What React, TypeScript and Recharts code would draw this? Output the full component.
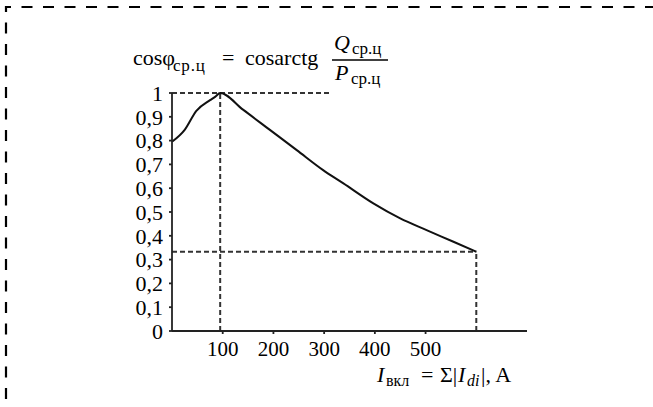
import React from 'react';
import { LineChart, Line, XAxis, YAxis, ReferenceLine } from 'recharts';

// current, A
const currents = [0, 25, 48, 75, 85, 95, 140, 193, 246, 298, 338, 397, 450, 502, 555, 600];
// cos phi
const cosPhi = [0.795, 0.845, 0.925, 0.97, 0.984, 1.0, 0.93, 0.845, 0.76, 0.676, 0.62, 0.536, 0.473, 0.424, 0.375, 0.333];

const xTicks = [100, 200, 300, 400, 500];
const yTicks = [0, 0.1, 0.2, 0.3, 0.4, 0.5, 0.6, 0.7, 0.8, 0.9, 1];

// guide lines: peak and end of the curve
const peakX = 95;
const endX = 600;
const endY = 0.333;
const topGuideEndX = 315;

const data = currents.map((x, i) => ({ x, y: cosPhi[i] }));

const FONT = '"Liberation Serif", "Times New Roman", serif';
const AXIS = '#222';
const GUIDE = { stroke: '#333', strokeWidth: 2, strokeDasharray: '5 3' };

export default function App() {
  return (
    <div style={{ position: 'absolute', left: 0, top: 0, width: 653, height: 407, background: '#fff' }}>
      <LineChart
        width={653}
        height={407}
        data={data}
        margin={{ top: 93, right: 126, left: 112, bottom: 46 }}
      >
        <XAxis
          dataKey="x"
          type="number"
          domain={[0, 700]}
          ticks={xTicks}
          allowDataOverflow
          tickSize={3}
          tickMargin={7}
          stroke={AXIS}
          strokeWidth={1.8}
          tick={{ fill: '#000', fontSize: 21, fontFamily: FONT }}
        />
        <YAxis
          type="number"
          domain={[0, 1]}
          ticks={yTicks}
          interval={0}
          width={60}
          tickSize={3}
          tickMargin={6}
          stroke={AXIS}
          strokeWidth={1.8}
          tickFormatter={(v: number) => String(v).replace('.', ',')}
          tick={{ fill: '#000', fontSize: 22, fontFamily: FONT }}
        />
        <ReferenceLine segment={[{ x: 0, y: 1 }, { x: topGuideEndX, y: 1 }]} {...GUIDE} />
        <ReferenceLine segment={[{ x: peakX, y: 0 }, { x: peakX, y: 1 }]} {...GUIDE} />
        <ReferenceLine segment={[{ x: 0, y: endY }, { x: endX, y: endY }]} {...GUIDE} />
        <ReferenceLine segment={[{ x: endX, y: 0 }, { x: endX, y: endY }]} {...GUIDE} />
        <Line
          type="monotone"
          dataKey="y"
          stroke="#111"
          strokeWidth={2}
          dot={false}
          isAnimationActive={false}
        />
      </LineChart>

      <svg
        width={653}
        height={407}
        style={{ position: 'absolute', left: 0, top: 0, pointerEvents: 'none' }}
        fontFamily={FONT}
        fill="#000"
      >
        {/* dashed frame */}
        <g stroke="#000" strokeWidth={2.2} strokeDasharray="11 10.5" strokeDashoffset={5} fill="none">
          <line x1={5} y1={7} x2={653} y2={7} />
          <line x1={6} y1={6} x2={6} y2={407} />
        </g>

        {/* formula above the plot */}
        <text x={133} y={65} fontSize={22}>cosφ</text>
        <text x={173} y={71} fontSize={17} letterSpacing={0.8}>ср.ц</text>
        <text x={222} y={65} fontSize={22}>=</text>
        <text x={245} y={65} fontSize={22}>cosarctg</text>
        <text x={334} y={50} fontSize={22} fontStyle="italic">Q</text>
        <text x={352} y={54} fontSize={17}>ср.ц</text>
        <line x1={332} y1={60} x2={388} y2={60} stroke="#000" strokeWidth={1.5} />
        <text x={335} y={80} fontSize={22} fontStyle="italic">P</text>
        <text x={351} y={84} fontSize={17}>ср.ц</text>

        {/* x axis title */}
        <text x={377} y={382} fontSize={22} fontStyle="italic">I</text>
        <text x={386} y={386} fontSize={16}>вкл</text>
        <text x={421} y={382} fontSize={22}>=</text>
        <text x={440} y={382} fontSize={22}>Σ|</text>
        <text x={458} y={382} fontSize={22} fontStyle="italic">I</text>
        <text x={467} y={386} fontSize={16} fontStyle="italic">di</text>
        <text x={481} y={382} fontSize={22}>|, A</text>
      </svg>
    </div>
  );
}
